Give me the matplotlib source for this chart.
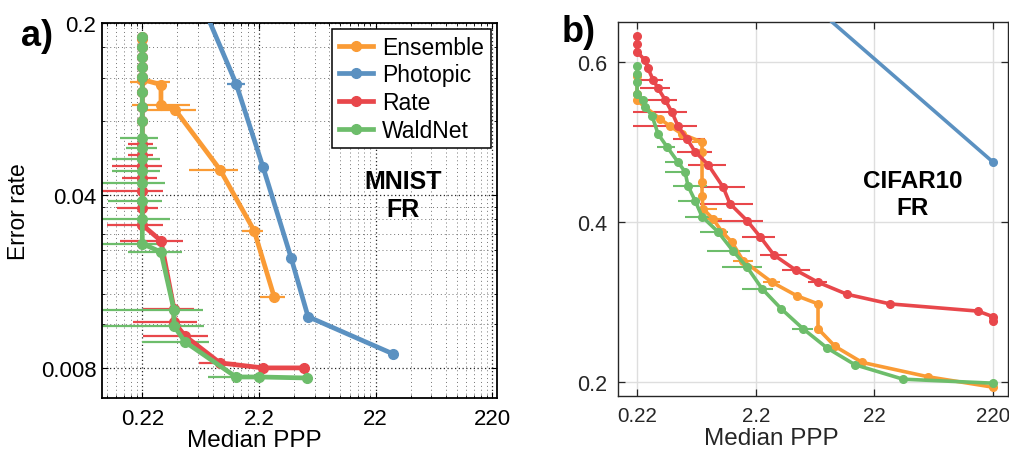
import numpy as np
import matplotlib
matplotlib.use("Agg")
import matplotlib.pyplot as plt
from matplotlib.ticker import FixedLocator, NullLocator, NullFormatter

plt.rcParams["font.family"] = ["Liberation Sans", "DejaVu Sans"]

# ---- colores por metodo ----
C_ENS = "#FA9B35"
C_PHO = "#5B91C1"
C_RATE = "#E8474B"
C_WALD = "#6DBD6B"

# ================= panel a) MNIST =================
a_ens_x = [0.22, 0.22, 0.318, 0.318, 0.42, 1.02, 2.0, 2.97]
a_ens_y = [0.173, 0.118, 0.1125, 0.0934, 0.0891, 0.0509, 0.0288, 0.01553]
a_ens_bar_y = [0.1155, 0.0934, 0.0891, 0.0509, 0.0288, 0.01553]
a_ens_bar_lo = [0.1725, 0.1795, 0.2367, 0.553, 1.576, 2.248]
a_ens_bar_hi = [0.38, 0.564, 0.635, 1.456, 2.386, 3.68]

a_pho_x = [0.45, 1.40, 2.38, 4.15, 5.80, 31.0]
a_pho_y = [0.40, 0.1136, 0.0523, 0.02235, 0.0129, 0.00912]
a_pho_bar_y = [0.1136]
a_pho_bar_lo = [1.172]
a_pho_bar_hi = [1.672]

a_rate_x = [0.22, 0.22, 0.22, 0.22, 0.22, 0.22, 0.22, 0.22, 0.22, 0.22,
            0.22, 0.22, 0.22, 0.22, 0.22, 0.318, 0.411, 0.411, 0.511,
            1.02, 2.386, 5.36]
a_rate_y = [0.1763, 0.1605, 0.1462, 0.1332, 0.1213, 0.1054, 0.0916, 0.0804,
            0.0649, 0.0585, 0.0528, 0.0472, 0.0418, 0.0357, 0.0304, 0.0262,
            0.01388, 0.01229, 0.01078, 0.00838, 0.0080, 0.0080]
a_rate_bar_y = [0.0649, 0.0585, 0.0528, 0.0472, 0.0418, 0.0357, 0.0304,
                0.0262, 0.01388, 0.01229, 0.01078, 0.00838]
a_rate_bar_lo = [0.1659, 0.1659, 0.1209, 0.1473, 0.0954, 0.1335, 0.1096,
                 0.1417, 0.223, 0.1831, 0.223, 0.674]
a_rate_bar_hi = [0.2718, 0.2718, 0.325, 0.294, 0.331, 0.300, 0.331,
                 0.4915, 0.611, 0.648, 0.805, 1.40]

a_wald_x = [0.22, 0.22, 0.22, 0.22, 0.22, 0.22, 0.22, 0.22, 0.22, 0.22,
            0.22, 0.22, 0.22, 0.22, 0.22, 0.22, 0.318, 0.411, 0.411, 0.511,
            1.40, 2.205, 5.70]
a_wald_y = [0.1763, 0.1605, 0.1462, 0.1332, 0.1213, 0.1054, 0.0916, 0.0804,
            0.0686, 0.0625, 0.0564, 0.0504, 0.0451, 0.0381, 0.0322, 0.0255,
            0.0236, 0.01375, 0.01184, 0.0102, 0.00735, 0.00735, 0.00728]
a_wald_bar_y = [0.0686, 0.0625, 0.0564, 0.0504, 0.0451, 0.0381, 0.0322,
                0.0255, 0.0236, 0.01375, 0.01184, 0.0102, 0.00735]
a_wald_bar_lo = [0.1417, 0.1594, 0.1209, 0.1209, 0.0993, 0.1118, 0.0993,
                 0.0954, 0.1659, 0.0993, 0.0993, 0.22, 0.805]
a_wald_bar_hi = [0.300, 0.294, 0.312, 0.312, 0.344, 0.325, 0.380,
                 0.344, 0.482, 0.730, 0.744, 0.821, 2.34]

# ================= panel b) CIFAR10 =================
b_ens_x = [0.22, 0.22, 0.22, 0.344, 0.417, 0.527, 0.776, 0.776, 0.776,
           0.776, 0.791, 0.961, 1.144, 1.389, 1.720, 3.018, 4.902, 7.368,
           7.368, 10.25, 17.30, 62.24, 220]
b_ens_y = [0.583, 0.560, 0.552, 0.529, 0.520, 0.510, 0.500, 0.488, 0.450,
           0.433, 0.417, 0.404, 0.388, 0.375, 0.352, 0.325, 0.308, 0.298,
           0.267, 0.245, 0.225, 0.207, 0.194]
b_ens_bar_y = [0.500, 0.488, 0.417, 0.404, 0.352, 0.325]
b_ens_bar_lo = [0.640, 0.615, 0.705, 0.791, 1.417, 2.534]
b_ens_bar_hi = [0.839, 0.872, 1.039, 1.144, 2.088, 3.525]

b_pho_x = [2.2, 220]
b_pho_y = [0.733, 0.475]

b_rate_x = [0.22, 0.22, 0.22, 0.257, 0.272, 0.300, 0.331, 0.379, 0.434,
            0.487, 0.580, 0.678, 0.872, 1.167, 1.336, 1.858, 2.392, 3.137,
            4.808, 7.368, 12.93, 29.77, 164.2, 220, 220]
b_rate_y = [0.632, 0.623, 0.613, 0.602, 0.592, 0.578, 0.567, 0.553, 0.537,
            0.520, 0.504, 0.488, 0.472, 0.444, 0.423, 0.402, 0.382, 0.359,
            0.340, 0.325, 0.310, 0.298, 0.289, 0.282, 0.277]
b_rate_bar_y = [0.578, 0.567, 0.553, 0.537, 0.520, 0.504, 0.488, 0.472,
                0.444, 0.423, 0.402, 0.382, 0.359, 0.340, 0.325]
b_rate_bar_lo = [0.233, 0.233, 0.212, 0.204, 0.204, 0.442, 0.478, 0.592,
                 0.747, 0.747, 0.942, 1.686, 2.392, 3.665, 6.068]
b_rate_bar_hi = [0.364, 0.417, 0.478, 0.580, 0.705, 0.823, 0.942, 1.237,
                 1.788, 2.088, 2.534, 3.199, 4.037, 6.309, 8.774]

b_wald_x = [0.22, 0.22, 0.22, 0.22, 0.247, 0.257, 0.294, 0.331, 0.394,
            0.487, 0.558, 0.592, 0.678, 0.776, 1.059, 1.417, 1.858, 2.486,
            3.6, 5.507, 8.774, 15.10, 38.32, 220]
b_wald_y = [0.595, 0.585, 0.575, 0.560, 0.552, 0.544, 0.533, 0.510, 0.494,
            0.475, 0.463, 0.445, 0.427, 0.407, 0.388, 0.364, 0.344, 0.317,
            0.292, 0.267, 0.243, 0.222, 0.204, 0.199]
b_wald_bar_y = [0.494, 0.475, 0.463, 0.445, 0.427, 0.407, 0.388, 0.364,
                0.344, 0.317, 0.267]
b_wald_bar_lo = [0.324, 0.379, 0.379, 0.442, 0.487, 0.558, 0.747, 0.855,
                 1.144, 1.686, 4.449]
b_wald_bar_hi = [0.460, 0.517, 0.615, 0.855, 0.747, 1.019, 1.285, 1.970,
                 2.486, 3.077, 6.686]

x_ticks = [0.22, 2.2, 22, 220]
x_ticklabels = ["0.22", "2.2", "22", "220"]
a_y_ticks = [0.008, 0.04, 0.2]
a_y_ticklabels = ["0.008", "0.04", "0.2"]
b_y_ticks = [0.2, 0.4, 0.6]
b_y_ticklabels = ["0.2", "0.4", "0.6"]


def serie(ax, x, y, color, label, lw, ms, bars=None, bar_lw=1.6):
    if bars is not None:
        by, lo, hi = bars
        ax.hlines(by, lo, hi, colors=color, lw=bar_lw, zorder=2)
    ax.plot(x, y, "o-", color=color, lw=lw, ms=ms, label=label, zorder=3,
            solid_joinstyle="round")


fig = plt.figure(figsize=(10.09, 4.56), dpi=100)

# ---------- a) ----------
ax = fig.add_axes([0.1011, 0.125, 0.3915, 0.8224])
ax.set_xscale("log")
ax.set_yscale("log")
lw_a, ms_a = 3.4, 7.0
serie(ax, a_ens_x, a_ens_y, C_ENS, "Ensemble", lw_a, ms_a,
      (a_ens_bar_y, a_ens_bar_lo, a_ens_bar_hi))
serie(ax, a_pho_x, a_pho_y, C_PHO, "Photopic", lw_a, ms_a,
      (a_pho_bar_y, a_pho_bar_lo, a_pho_bar_hi))
serie(ax, a_rate_x, a_rate_y, C_RATE, "Rate", lw_a, ms_a,
      (a_rate_bar_y, a_rate_bar_lo, a_rate_bar_hi))
serie(ax, a_wald_x, a_wald_y, C_WALD, "WaldNet", lw_a, ms_a,
      (a_wald_bar_y, a_wald_bar_lo, a_wald_bar_hi))
ax.set_xlim(0.0993, 242)
ax.set_ylim(0.00604, 0.2)
ax.xaxis.set_major_locator(FixedLocator(x_ticks))
ax.set_xticklabels(x_ticklabels)
ax.yaxis.set_major_locator(FixedLocator(a_y_ticks))
ax.set_yticklabels(a_y_ticklabels)
# rejilla menor en multiplos de 0.22 (x) y 0.004 (y)
ax.xaxis.set_minor_locator(FixedLocator(
    [0.022 * k * 10 ** n for n in range(0, 5) for k in range(2, 10)]))
ax.yaxis.set_minor_locator(FixedLocator(
    [0.0004 * k * 10 ** n for n in range(0, 4) for k in range(1, 10)]))
ax.xaxis.set_minor_formatter(NullFormatter())
ax.yaxis.set_minor_formatter(NullFormatter())
ax.grid(True, which="major", ls=(0, (1, 2)), color="0.15", lw=0.9)
ax.grid(True, which="minor", ls=(0, (1, 3)), color="0.45", lw=0.7)
ax.tick_params(which="both", direction="in", top=True, right=True,
               labelsize=16, colors="black")
ax.tick_params(which="major", length=4, width=0.8)
ax.tick_params(which="minor", length=2, width=0.6)
ax.tick_params(axis="x", pad=7)
ax.tick_params(axis="y", pad=4)
for s in ax.spines.values():
    s.set_linewidth(1.3)
    s.set_color("black")
ax.set_ylabel("Error rate", fontsize=16.5)
ax.yaxis.set_label_coords(-0.182, 0.50)
ax.set_xlabel("Median PPP", fontsize=17.5)
ax.xaxis.set_label_coords(0.385, -0.082)
leg = ax.legend(loc="upper right", bbox_to_anchor=(0.985, 0.984),
                borderaxespad=0, fontsize=16.5, handlelength=1.5,
                handletextpad=0.4, labelspacing=0.2, borderpad=0.3,
                fancybox=False, framealpha=1, edgecolor="black", numpoints=1)
leg.get_frame().set_linewidth(1.1)
ax.text(0.762, 0.541, "MNIST\nFR", transform=ax.transAxes, ha="center",
        va="center", fontsize=18, fontweight="bold", linespacing=1.25)
fig.text(0.037, 0.919, "a)", fontsize=26, fontweight="bold", ha="center",
         va="center")

# ---------- b) ----------
bx = fig.add_axes([0.6125, 0.1294, 0.3865, 0.8202])
bx.set_xscale("log")
lw_b, ms_b = 2.6, 5.5
serie(bx, b_ens_x, b_ens_y, C_ENS, "Ensemble", lw_b, ms_b,
      (b_ens_bar_y, b_ens_bar_lo, b_ens_bar_hi), bar_lw=1.5)
serie(bx, b_pho_x, b_pho_y, C_PHO, "Photopic", lw_b, ms_b)
serie(bx, b_rate_x, b_rate_y, C_RATE, "Rate", lw_b, ms_b,
      (b_rate_bar_y, b_rate_bar_lo, b_rate_bar_hi), bar_lw=1.5)
serie(bx, b_wald_x, b_wald_y, C_WALD, "WaldNet", lw_b, ms_b,
      (b_wald_bar_y, b_wald_bar_lo, b_wald_bar_hi), bar_lw=1.5)
bx.set_xlim(0.152, 294)
bx.set_ylim(0.183, 0.650)
bx.xaxis.set_major_locator(FixedLocator(x_ticks))
bx.set_xticklabels(x_ticklabels)
bx.xaxis.set_minor_locator(NullLocator())
bx.yaxis.set_major_locator(FixedLocator(b_y_ticks))
bx.set_yticklabels(b_y_ticklabels)
bx.grid(True, which="major", color="#dedede", lw=1.0)
bx.set_axisbelow(True)
bx.tick_params(direction="in", top=True, right=True, labelsize=15.5,
               length=5, width=0.9, colors="#262626")
bx.tick_params(axis="x", pad=7, labelsize=14.8)
bx.tick_params(axis="y", pad=8)
for s in bx.spines.values():
    s.set_linewidth(1.0)
    s.set_color("#262626")
bx.set_xlabel("Median PPP", fontsize=17.5, color="#262626")
bx.xaxis.set_label_coords(0.392, -0.082)
bx.text(0.756, 0.540, "CIFAR10\nFR", transform=bx.transAxes, ha="center",
        va="center", fontsize=17.5, fontweight="bold", linespacing=1.25)
fig.text(0.573, 0.928, "b)", fontsize=26, fontweight="bold", ha="center",
         va="center")

fig.savefig("out.png", dpi=100)
